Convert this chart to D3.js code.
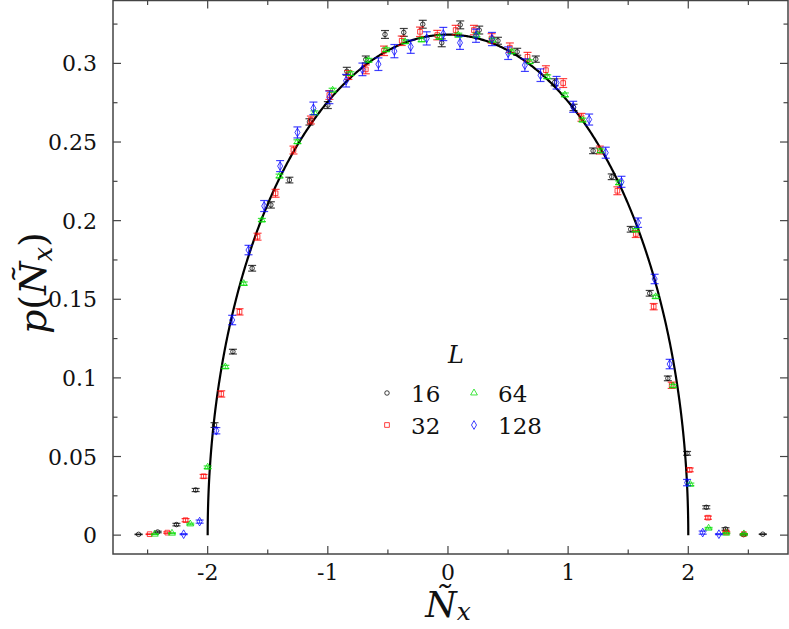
<!DOCTYPE html>
<html><head><meta charset="utf-8">
<script src="https://cdn.jsdelivr.net/npm/d3@7"></script>
<style>
html,body{margin:0;padding:0;background:#fff;}
</style></head>
<body><svg id="c" width="789" height="629" style="font-family:'DejaVu Serif',serif"></svg>
<script>
// ---- data ----
const xTicks = [-2, -1, 0, 1, 2];
const xTickLabels = ["-2", "-1", "0", "1", "2"];
const yTicks = [0, 0.05, 0.1, 0.15, 0.2, 0.25, 0.3];
const yTickLabels = ["0", "0.05", "0.1", "0.15", "0.2", "0.25", "0.3"];
const seriesNames = ["16", "32", "64", "128"];

const x16 = [-2.575,-2.416,-2.26,-2.10,-1.943,-1.79,-1.63,-1.474,-1.32,-1.153,-1.0,-0.842,-0.684,-0.524,-0.368,-0.21,-0.052,0.102,0.26,0.416,0.576,0.731,0.888,1.045,1.208,1.363,1.521,1.679,1.83,1.99,2.15,2.31,2.46,2.62];
const y16 = [0.0005,0.002,0.0067,0.0287,0.070,0.1167,0.1697,0.210,0.2258,0.2628,0.2735,0.295,0.3025,0.3184,0.3197,0.3249,0.3131,0.3245,0.3212,0.3144,0.3074,0.3027,0.288,0.272,0.2444,0.2279,0.1945,0.1538,0.0997,0.052,0.0177,0.0039,0.0003,0.0006];
const e16 = [0.0002,0.0005,0.0008,0.001,0.0015,0.0015,0.0018,0.002,0.0018,0.002,0.0022,0.0025,0.0022,0.0025,0.0025,0.0025,0.0025,0.0025,0.0025,0.0022,0.0022,0.002,0.0022,0.002,0.0018,0.0018,0.0018,0.0018,0.0015,0.0012,0.001,0.0008,0.0003,0.0002];

const x32 = [-2.483,-2.336,-2.184,-2.034,-1.887,-1.735,-1.585,-1.435,-1.286,-1.141,-0.987,-0.829,-0.684,-0.532,-0.385,-0.233,-0.089,0.064,0.216,0.363,0.515,0.662,0.815,0.959,1.111,1.264,1.41,1.563,1.712,1.862,2.012,2.164,2.316,2.463];
const y32 = [0.0006,0.0016,0.0095,0.0374,0.0898,0.142,0.1898,0.2174,0.2449,0.264,0.2799,0.2926,0.2962,0.308,0.3144,0.3201,0.318,0.3212,0.3212,0.3159,0.31,0.3042,0.2957,0.2875,0.2657,0.2449,0.219,0.1915,0.1453,0.0953,0.0415,0.0111,0.0018,0.0007];
const e32 = [0.0002,0.0005,0.001,0.0012,0.002,0.002,0.0022,0.0025,0.0025,0.0025,0.0028,0.0028,0.0028,0.003,0.003,0.003,0.003,0.003,0.003,0.003,0.003,0.0028,0.0028,0.0028,0.0025,0.0025,0.0025,0.0022,0.002,0.002,0.0012,0.001,0.0005,0.0002];

const x64 = [-2.44,-2.297,-2.145,-2.0,-1.853,-1.70,-1.549,-1.402,-1.253,-1.111,-0.96,-0.812,-0.662,-0.515,-0.357,-0.219,-0.072,0.086,0.238,0.37,0.53,0.68,0.826,0.973,1.12,1.27,1.424,1.563,1.729,1.873,2.017,2.169,2.316,2.463];
const y64 = [0.0006,0.0012,0.0071,0.0432,0.107,0.160,0.2004,0.2284,0.2502,0.2686,0.283,0.2935,0.302,0.3087,0.3138,0.315,0.3166,0.318,0.318,0.3148,0.3074,0.3011,0.2915,0.28,0.264,0.2444,0.2241,0.194,0.1516,0.0949,0.0323,0.0044,0.0012,0.0008];
const e64 = [0.0002,0.0003,0.0005,0.0008,0.001,0.001,0.001,0.0012,0.0012,0.0012,0.0012,0.0012,0.0012,0.0012,0.0012,0.0012,0.0012,0.0012,0.0012,0.0012,0.0012,0.0012,0.0012,0.0012,0.0012,0.0012,0.0012,0.001,0.001,0.001,0.0008,0.0005,0.0003,0.0002];

const x128 = [-2.2,-2.067,-1.928,-1.796,-1.66,-1.53,-1.397,-1.253,-1.12,-0.987,-0.848,-0.712,-0.579,-0.446,-0.31,-0.177,-0.039,0.1,0.233,0.366,0.501,0.64,0.77,0.904,1.042,1.175,1.313,1.444,1.582,1.72,1.845,1.99,2.12,2.255];
const y128 = [0.0006,0.0086,0.0664,0.1368,0.1813,0.2093,0.2347,0.2561,0.2714,0.2784,0.289,0.2962,0.2995,0.3078,0.3106,0.3159,0.3187,0.3131,0.3176,0.3155,0.3065,0.2989,0.2925,0.2877,0.2724,0.2643,0.2432,0.2247,0.1987,0.1629,0.1088,0.0334,0.0016,0.0006];
const e128 = [0.0003,0.001,0.002,0.003,0.003,0.0035,0.0035,0.0035,0.004,0.004,0.004,0.004,0.004,0.0042,0.0042,0.0042,0.0042,0.0042,0.0042,0.0042,0.004,0.004,0.004,0.004,0.0035,0.0035,0.0035,0.0035,0.003,0.003,0.003,0.002,0.001,0.0003];

// Wigner semicircle radius (theory curve)
const semicircleRadius = 2;

// ---- chart ----
const svg = d3.select("#c");
const X0 = 113, X1 = 788, Y0 = 554, Y1 = 0.5;
const x = d3.scaleLinear().domain([-2.788, 2.83]).range([X0, X1]);
const y = d3.scaleLinear().domain([-0.012, 0.34]).range([Y0, Y1]);

const axisColor = "#444";
svg.append("rect").attr("x", X0).attr("y", Y1).attr("width", X1 - X0).attr("height", Y0 - Y1)
  .attr("fill", "none").attr("stroke", axisColor).attr("stroke-width", 1.5);

const minorX = d3.range(-2.5, 2.51, 0.5);
const minorY = d3.range(0, 0.3376, 0.025);
const tg = svg.append("g").attr("stroke", axisColor).attr("stroke-width", 1.2);
minorX.forEach(v => {
  const major = Math.abs(v - Math.round(v)) < 1e-6;
  const L = major ? 8 : 4.5;
  tg.append("line").attr("x1", x(v)).attr("x2", x(v)).attr("y1", Y0).attr("y2", Y0 - L);
  tg.append("line").attr("x1", x(v)).attr("x2", x(v)).attr("y1", Y1).attr("y2", Y1 + L);
});
minorY.forEach((v, i) => {
  const major = i % 2 === 0;
  const L = major ? 8 : 4.5;
  tg.append("line").attr("y1", y(v)).attr("y2", y(v)).attr("x1", X0).attr("x2", X0 + L);
  tg.append("line").attr("y1", y(v)).attr("y2", y(v)).attr("x1", X1).attr("x2", X1 - L);
});

const txtFill = "#111";
xTicks.forEach((v, i) => {
  svg.append("text").attr("x", x(v)).attr("y", 580).attr("text-anchor", "middle")
    .attr("font-size", 22).attr("fill", txtFill).text(xTickLabels[i]);
});
yTicks.forEach((v, i) => {
  svg.append("text").attr("x", 97).attr("y", y(v) + 8).attr("text-anchor", "end")
    .attr("font-size", 22).attr("fill", txtFill).text(yTickLabels[i]);
});

const xt = svg.append("text").attr("x", 448).attr("y", 617).attr("text-anchor", "middle")
  .attr("font-size", 36).attr("fill", txtFill);
xt.append("tspan").attr("font-style", "italic").text("Ñ");
xt.append("tspan").attr("font-style", "italic").attr("font-size", 25).attr("dy", 3).text("x");

const yt = svg.append("text").attr("transform", "translate(46,283) rotate(-90)")
  .attr("text-anchor", "middle").attr("font-size", 38).attr("fill", txtFill);
yt.append("tspan").attr("font-style", "italic").text("p");
yt.append("tspan").text("(");
yt.append("tspan").attr("font-style", "italic").text("Ñ");
yt.append("tspan").attr("font-style", "italic").attr("font-size", 26).attr("dy", 6).text("x");
yt.append("tspan").attr("dy", -6).text(")");

const curveXs = d3.range(-1, 1.00001, 0.0025).map(t => semicircleRadius * Math.sin(t * Math.PI / 2));
const line = d3.line().x(d => x(d)).y(d => y(Math.sqrt(Math.max(0, semicircleRadius * semicircleRadius - d * d)) / (2 * Math.PI)));
svg.append("path").datum(curveXs).attr("d", line).attr("fill", "none")
  .attr("stroke", "#000").attr("stroke-width", 2.2);

const series = [
  {name: seriesNames[0], xs: x16, ys: y16, es: e16, color: "#000000", sym: d3.symbolCircle, size: 16},
  {name: seriesNames[1], xs: x32, ys: y32, es: e32, color: "#ff0000", sym: d3.symbolSquare, size: 22},
  {name: seriesNames[2], xs: x64, ys: y64, es: e64, color: "#00dd00", sym: d3.symbolTriangle, size: 20},
  {name: seriesNames[3], xs: x128, ys: y128, es: e128, color: "#0000ff", sym: d3.symbolDiamond, size: 22},
];

series.forEach(s => {
  const g = svg.append("g").attr("stroke", s.color).attr("fill", "none").attr("stroke-opacity", 0.75);
  s.xs.forEach((xv, i) => {
    const cx = x(xv), yv = s.ys[i], ev = s.es[i];
    const ya = y(yv - ev), yb = y(yv + ev);
    g.append("line").attr("x1", cx).attr("x2", cx).attr("y1", ya).attr("y2", yb).attr("stroke-width", 1);
    g.append("line").attr("x1", cx - 4).attr("x2", cx + 4).attr("y1", ya).attr("y2", ya).attr("stroke-width", 1.2);
    g.append("line").attr("x1", cx - 4).attr("x2", cx + 4).attr("y1", yb).attr("y2", yb).attr("stroke-width", 1.2);
    g.append("path").attr("d", d3.symbol().type(s.sym).size(s.size)())
      .attr("transform", `translate(${cx},${y(yv)})`).attr("stroke-width", 1);
  });
});

svg.append("text").attr("x", 456).attr("y", 363).attr("text-anchor", "middle")
  .attr("font-size", 24).attr("font-style", "italic").attr("fill", txtFill).text("L");
const legPos = [[387, 393], [387, 425], [474, 393], [474, 425]];
series.forEach((s, i) => {
  const [lx, ly] = legPos[i];
  svg.append("path").attr("d", d3.symbol().type(s.sym).size(s.size)())
    .attr("transform", `translate(${lx},${ly})`).attr("fill", "none")
    .attr("stroke", s.color).attr("stroke-opacity", 0.75).attr("stroke-width", 1);
  svg.append("text").attr("x", lx + 24).attr("y", ly + 9).attr("font-size", 23)
    .attr("fill", txtFill).text(s.name);
});
</script></body></html>
